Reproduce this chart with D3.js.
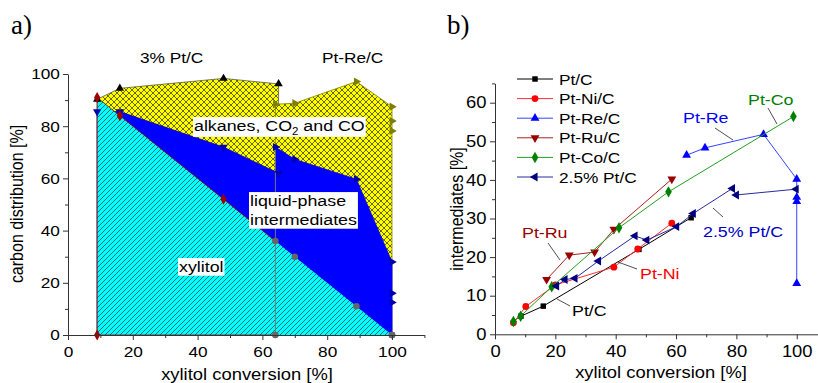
<!DOCTYPE html>
<html lang="en">
<head>
<meta charset="UTF-8">
<title>xylitol conversion</title>
<style>
  body { margin: 0; background: #fff; }
  svg { font-family: "Liberation Sans", Arial, sans-serif; }
</style>
</head>
<body>
<svg id="chart" width="818" height="383"></svg>
<script src="https://cdn.jsdelivr.net/npm/d3@7/dist/d3.min.js"></script>
<script>
// ---- panel a) carbon distribution (cumulative %) vs conversion
var ptcConv    = [9, 16, 48, 65]
var ptcXylitol = [91, 84, 52, 35]
var ptcLiquid  = [85.6, 85.6, 72, 62]     // xylitol + intermediates
var ptcTotal   = [90.3, 94.5, 98.3, 96.2] // + alkanes, CO2, CO

var reConv    = [64, 70, 89, 100, 100, 100]
var reXylitol = [36, 30, 11, 0, 0, 0]
var reLiquid  = [72, 67.3, 59.7, 28, 16, 12.5]
var reTotal   = [88.4, 88.8, 97.1, 87.5, 82, 78.2]

// ---- panel b) intermediates vs conversion
var catNames = ['Pt/C', 'Pt-Ni/C', 'Pt-Re/C', 'Pt-Ru/C', 'Pt-Co/C', '2.5% Pt/C']
var ptcX  = [8.6, 16, 47.7, 65],            ptcY  = [4.7, 7.3, 22, 30.2]
var niX   = [6.1, 10.2, 20, 39.4, 47.3, 58.6], niY = [3, 7.2, 12.8, 17.4, 22.1, 28.8]
var reX   = [63.5, 69.6, 89, 100, 100, 100, 100], reY = [46.4, 48.3, 51.8, 40.2, 35.5, 34.4, 13.2]
var ruX   = [17.1, 24.6, 33, 39.4, 58.6],   ruY   = [14.2, 20.5, 21.3, 27.2, 40.2]
var coX   = [6.1, 8.5, 18.8, 41.1, 57.5, 98.9], coY = [3.3, 4.7, 12.3, 27.6, 36.9, 56.4]
var pt25X = [20.4, 23.2, 26.5, 34.3, 46.4, 50.3, 60.2, 65.7, 78.7, 80, 99.8]
var pt25Y = [12.5, 14.2, 14.5, 19, 25.5, 24.4, 27.9, 31.3, 37.8, 36.1, 37.6]

var xTicks = [0, 20, 40, 60, 80, 100]

var S = 1.15   // glyphs in the original are a bit wider than normal
var svg = d3.select('#chart')

function zip(xs, ys) { return xs.map(function (v, i) { return [v, ys[i]] }) }

function txt(parent, x, y, str, size, color, anchor, rot) {
  var t = parent.append('text')
    .attr('transform', 'translate(' + x + ',' + y + ') scale(' + S + ',1)' + (rot ? ' rotate(' + rot + ')' : ''))
    .attr('font-size', size)
    .attr('fill', color || '#000')
    .attr('text-anchor', anchor || 'start')
    .text(str)
  return t
}

function styleAxis(g, size) {
  g.attr('font-family', null).attr('font-size', size)
  g.select('.domain').attr('stroke', '#333')
  g.selectAll('.tick line').attr('stroke', '#333')
  g.selectAll('.tick text').attr('transform', 'scale(' + S + ',1)').attr('fill', '#000')
}

function symbolPath(type, size, rot) {
  var p = d3.symbol().type(type).size(size)()
  return { d: p, rot: rot || 0 }
}

function drawMarkers(g, pts, type, size, rot, color) {
  var sym = d3.symbol().type(type).size(size)
  g.selectAll(null).data(pts).enter().append('path')
    .attr('d', sym)
    .attr('transform', function (d) { return 'translate(' + d[0] + ',' + d[1] + ') rotate(' + rot + ')' })
    .attr('fill', color)
}

// hatch patterns
var defs = svg.append('defs')
var hatch = defs.append('pattern').attr('id', 'hatch')
  .attr('patternUnits', 'userSpaceOnUse').attr('width', 5).attr('height', 5)
hatch.append('rect').attr('width', 5).attr('height', 5).attr('fill', '#00ffff')
hatch.append('path').attr('d', 'M-1,1 L1,-1 M0,5 L5,0 M4,6 L6,4')
  .attr('stroke', '#0d4f55').attr('stroke-width', 0.8)
var cross = defs.append('pattern').attr('id', 'cross')
  .attr('patternUnits', 'userSpaceOnUse').attr('width', 6).attr('height', 6)
cross.append('rect').attr('width', 6).attr('height', 6).attr('fill', '#ffff00')
cross.append('path').attr('d', 'M0,0 L6,6 M6,0 L0,6')
  .attr('stroke', '#2a2a00').attr('stroke-width', 0.7)

// ================= panel a =================
var xA = d3.scaleLinear().domain([0, 110]).range([68, 424.4])
var yA = d3.scaleLinear().domain([0, 100]).range([335, 74])
var gA = svg.append('g')

function areaA(xs, ys) {
  return d3.area().x(function (d) { return xA(d[0]) }).y0(yA(0)).y1(function (d) { return yA(d[1]) })(zip(xs, ys))
}

// painter's order: totals, then liquid, then xylitol
gA.append('path').attr('d', areaA(ptcConv, ptcTotal)).attr('fill', 'url(#cross)').attr('stroke', '#444').attr('stroke-width', 0.7)
gA.append('path').attr('d', areaA(reConv, reTotal)).attr('fill', 'url(#cross)').attr('stroke', '#808000').attr('stroke-width', 0.8)
gA.append('path').attr('d', areaA(ptcConv, ptcLiquid)).attr('fill', '#0000ff').attr('stroke', '#0000c0').attr('stroke-width', 0.7)
gA.append('path').attr('d', areaA(reConv, reLiquid)).attr('fill', '#0000ff').attr('stroke', '#0000ff').attr('stroke-width', 0.8)
gA.append('path').attr('d', areaA(ptcConv, ptcXylitol)).attr('fill', 'url(#hatch)').attr('stroke', '#a00000').attr('stroke-width', 0.8)
gA.append('path').attr('d', areaA(reConv, reXylitol)).attr('fill', 'url(#hatch)').attr('stroke', 'none')

// drop line where the Pt-Re run starts
gA.append('line')
  .attr('x1', xA(reConv[0])).attr('x2', xA(reConv[0]))
  .attr('y1', yA(0)).attr('y2', yA(reLiquid[0]))
  .attr('stroke', '#777').attr('stroke-width', 1)

function ptsA(xs, ys) { return zip(xs, ys).map(function (d) { return [xA(d[0]), yA(d[1])] }) }

drawMarkers(gA, ptsA(ptcConv, ptcTotal), d3.symbolTriangle, 30, 0, '#000')
drawMarkers(gA, ptsA(ptcConv, ptcLiquid), d3.symbolTriangle, 30, 180, '#0000b0')
drawMarkers(gA, ptsA(ptcConv.slice(0, 3), ptcXylitol.slice(0, 3)).concat([[xA(ptcConv[0]), yA(0)]]), d3.symbolDiamond, 34, 0, '#a00000')
drawMarkers(gA, ptsA(reConv, reTotal), d3.symbolTriangle, 30, 90, '#808000')
drawMarkers(gA, ptsA(reConv, reLiquid), d3.symbolTriangle, 30, 90, '#0000b0')
drawMarkers(gA, ptsA(reConv, reXylitol).concat([[xA(reConv[0]), yA(0)]]), d3.symbolCircle, 34, 0, '#666')

// axes
var axAx = gA.append('g').attr('transform', 'translate(0,' + yA(0) + ')')
  .call(d3.axisBottom(xA).tickValues(xTicks).tickSize(5).tickSizeOuter(0).tickPadding(6))
styleAxis(axAx, 15)
gA.append('g').attr('transform', 'translate(0,' + yA(0) + ')')
  .call(d3.axisBottom(xA).tickValues([10, 30, 50, 70, 90, 110]).tickSize(3).tickFormat(''))
  .call(function (g) { g.select('.domain').remove(); g.selectAll('line').attr('stroke', '#333') })
var axAy = gA.append('g').attr('transform', 'translate(' + xA(0) + ',0)')
  .call(d3.axisLeft(yA).tickValues([0, 20, 40, 60, 80, 100]).tickSize(5).tickSizeOuter(0).tickPadding(2))
styleAxis(axAy, 15)
gA.append('g').attr('transform', 'translate(' + xA(0) + ',0)')
  .call(d3.axisLeft(yA).tickValues([10, 30, 50, 70, 90]).tickSize(3).tickFormat(''))
  .call(function (g) { g.select('.domain').remove(); g.selectAll('line').attr('stroke', '#333') })

txt(gA, 247, 380, 'xylitol conversion [%]', 16, '#000', 'middle')
txt(gA, 23, 204, 'carbon distribution [%]', 16, '#000', 'middle', -90)
txt(gA, 140, 63, '3% Pt/C', 15)
txt(gA, 322, 63, 'Pt-Re/C', 15)

// white boxed region labels
function boxLabel(lines, x, y, lh, sub) {
  var g = gA.append('g')
  lines.forEach(function (s, i) {
    var t = txt(g, x, y + i * lh, s, 15.5)
    if (sub && i === 0) {
      t.text('alkanes, CO')
      t.append('tspan').attr('font-size', 10).attr('dy', 4).text('2')
      t.append('tspan').attr('dy', -4).text(' and CO')
    }
  })
  var b = g.node().getBBox()
  g.insert('rect', ':first-child')
    .attr('x', b.x - 1).attr('y', b.y).attr('width', b.width + 2).attr('height', b.height)
    .attr('fill', '#fff')
}
boxLabel(['alkanes'], 194, 131, 0, true)
boxLabel(['liquid-phase', 'intermediates'], 250, 206, 19)
boxLabel(['xylitol'], 179, 272, 0)

// panel letters
svg.append('text').attr('x', 11).attr('y', 34).attr('font-family', '"Liberation Serif", serif')
  .attr('font-size', 27).text('a)')
svg.append('text').attr('x', 447).attr('y', 34).attr('font-family', '"Liberation Serif", serif')
  .attr('font-size', 27).text('b)')

// ================= panel b =================
var xB = d3.scaleLinear().domain([0, 110]).range([495, 826.9])
var yB = d3.scaleLinear().domain([0, 65]).range([334.3, 83.4])
var gB = svg.append('g')

var series = [
  { name: catNames[0], xs: ptcX,  ys: ptcY,  color: '#000000', line: '#000000', type: d3.symbolSquare,   rot: 0,   size: 30 },
  { name: catNames[1], xs: niX,   ys: niY,   color: '#ff0000', line: '#ff3030', type: d3.symbolCircle,   rot: 0,   size: 36 },
  { name: catNames[2], xs: reX,   ys: reY,   color: '#0000ff', line: '#3344ff', type: d3.symbolTriangle, rot: 0,   size: 34 },
  { name: catNames[3], xs: ruX,   ys: ruY,   color: '#990000', line: '#aa2020', type: d3.symbolTriangle, rot: 180, size: 34 },
  { name: catNames[4], xs: coX,   ys: coY,   color: '#008000', line: '#20a020', type: d3.symbolDiamond,  rot: 0,   size: 38 },
  { name: catNames[5], xs: pt25X, ys: pt25Y, color: '#000080', line: '#2a2aa0', type: d3.symbolTriangle, rot: -90, size: 34 }
]

var lineB = d3.line().x(function (d) { return xB(d[0]) }).y(function (d) { return yB(d[1]) })
series.forEach(function (s) {
  var pts = zip(s.xs, s.ys)
  gB.append('path').attr('d', lineB(pts)).attr('fill', 'none').attr('stroke', s.line).attr('stroke-width', 1)
  drawMarkers(gB, pts.map(function (d) { return [xB(d[0]), yB(d[1])] }), s.type, s.size, s.rot, s.color)
})

var axBx = gB.append('g').attr('transform', 'translate(0,' + yB(0) + ')')
  .call(d3.axisBottom(xB).tickValues(xTicks).tickSize(5).tickSizeOuter(0).tickPadding(6))
styleAxis(axBx, 16)
gB.append('g').attr('transform', 'translate(0,' + yB(0) + ')')
  .call(d3.axisBottom(xB).tickValues([10, 30, 50, 70, 90, 110]).tickSize(3).tickFormat(''))
  .call(function (g) { g.select('.domain').remove(); g.selectAll('line').attr('stroke', '#333') })
var axBy = gB.append('g').attr('transform', 'translate(' + xB(0) + ',0)')
  .call(d3.axisLeft(yB).tickValues([0, 10, 20, 30, 40, 50, 60]).tickSize(5).tickSizeOuter(0).tickPadding(2.5))
styleAxis(axBy, 16)
gB.append('g').attr('transform', 'translate(' + xB(0) + ',0)')
  .call(d3.axisLeft(yB).tickValues([5, 15, 25, 35, 45, 55, 65]).tickSize(3).tickFormat(''))
  .call(function (g) { g.select('.domain').remove(); g.selectAll('line').attr('stroke', '#333') })

txt(gB, 661, 378, 'xylitol conversion [%]', 16, '#000', 'middle')
txt(gB, 463, 209, 'intermediates [%]', 16, '#000', 'middle', -90)

// legend
var leg = gB.append('g')
series.forEach(function (s, i) {
  var y = 79 + i * 19.6
  leg.append('line').attr('x1', 517).attr('x2', 553).attr('y1', y).attr('y2', y)
    .attr('stroke', s.line).attr('stroke-width', 1)
  drawMarkers(leg, [[535, y]], s.type, s.size, s.rot, s.color)
  txt(leg, 559, y + 5.5, s.name, 15)
})

// callouts
var notes = [
  { t: 'Pt-Co', c: '#008000', x: 748, y: 105, l: [768, 108, 777, 124] },
  { t: 'Pt-Re', c: '#0000ff', x: 683, y: 123, l: [715, 128, 733, 140] },
  { t: 'Pt-Ru', c: '#990000', x: 522, y: 238, l: [548, 243, 560, 260] },
  { t: 'Pt-Ni', c: '#ff0000', x: 640, y: 279, l: [618, 262, 637, 269] },
  { t: 'Pt/C', c: '#000000', x: 572, y: 316, l: [557, 299, 570, 306] },
  { t: '2.5% Pt/C', c: '#0000c0', x: 703, y: 237, l: [713, 208, 723, 217] }
]
notes.forEach(function (n) {
  gB.append('line').attr('x1', n.l[0]).attr('y1', n.l[1]).attr('x2', n.l[2]).attr('y2', n.l[3])
    .attr('stroke', '#222').attr('stroke-width', 0.8)
  txt(gB, n.x, n.y, n.t, 15.5, n.c)
})
</script>
</body>
</html>
